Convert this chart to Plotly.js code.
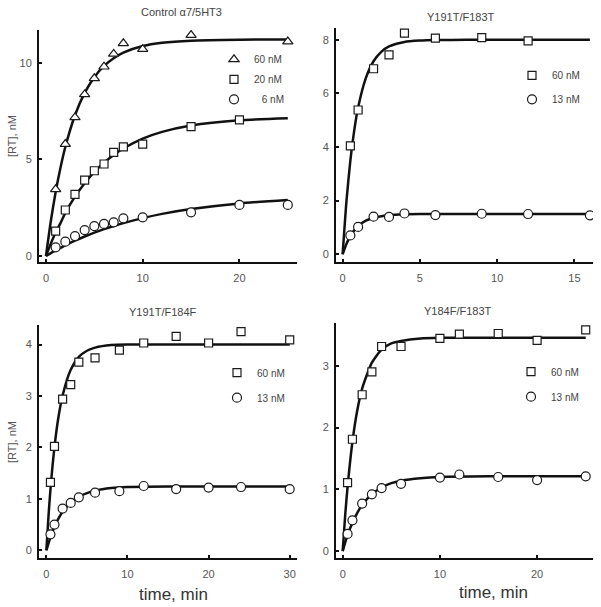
<!DOCTYPE html>
<html><head><meta charset="utf-8">
<script src="https://cdn.plot.ly/plotly-3.0.1.min.js"></script>
<style>html,body{margin:0;padding:0;background:#fff}</style>
</head><body><div id="chart" style="width:601px;height:607px"></div>
<script>
// ---------- Panel 1: Control a7/5HT3 ----------
const p1_t60 = [1,2,3,4,5,6,7,8,10,15,25];
const p1_y60 = [3.45,5.79,7.17,8.36,9.19,9.79,10.45,11.0,10.7,11.43,11.09];
const p1_t20 = [1,2,3,4,5,6,7,8,10,15,20];
const p1_y20 = [1.29,2.38,3.19,3.93,4.41,4.76,5.36,5.64,5.79,6.69,7.04];
const p1_t6  = [1,2,3,4,5,6,7,8,10,15,20,25];
const p1_y6  = [0.45,0.74,1.03,1.34,1.55,1.66,1.74,1.95,2.0,2.26,2.64,2.64];
const p1_fitT   = [0,0.5,1,1.5,2,3,4,5,6,7,8,10,12,15,20,25];
const p1_fit60  = [0,1.80,3.31,4.57,5.64,7.28,8.44,9.25,9.83,10.23,10.52,10.86,11.03,11.14,11.19,11.20];
const p1_fit20  = [0,0.64,1.22,1.70,2.23,3.07,3.76,4.35,4.83,5.23,5.56,6.07,6.42,6.75,7.02,7.13];
const p1_fit6   = [0,0.15,0.29,0.42,0.55,0.79,1.01,1.21,1.39,1.55,1.70,1.96,2.18,2.43,2.72,2.90];

// ---------- Panel 2: Y191T/F183T ----------
const p2_t60 = [0.5,1,2,3,4,6,9,12];
const p2_y60 = [4.04,5.38,6.92,7.44,8.25,8.06,8.08,7.96];
const p2_t13 = [0.5,1,2,3,4,6,9,12,16];
const p2_y13 = [0.70,1.02,1.40,1.39,1.52,1.46,1.51,1.50,1.45];
const p2_fitT  = [0,0.25,0.5,0.75,1,1.5,2,2.5,3,4,5,6,8,12,16];
const p2_fit60 = [0,2.00,3.50,4.62,5.47,6.57,7.20,7.55,7.75,7.92,7.97,7.99,8.0,8.0,8.0];
const p2_fit13 = [0,0.39,0.68,0.89,1.05,1.25,1.36,1.42,1.46,1.49,1.50,1.50,1.50,1.50,1.50];

// ---------- Panel 3: Y191T/F184F ----------
const p3_t = [0.5,1,2,3,4,6,9,12,16,20,24,30];
const p3_y60 = [1.32,2.02,2.94,3.22,3.66,3.74,3.89,4.03,4.16,4.03,4.25,4.09];
const p3_y13 = [0.31,0.50,0.81,0.92,1.03,1.12,1.15,1.25,1.19,1.22,1.23,1.19];
const p3_fitT  = [0,0.25,0.5,1,1.5,2,3,4,5,6,8,10,15,20,25,30];
const p3_fit60 = [0,0.64,1.18,2.01,2.60,3.01,3.51,3.76,3.88,3.94,3.99,4.0,4.0,4.0,4.0,4.0];
const p3_fit13 = [0,0.13,0.25,0.46,0.62,0.75,0.93,1.04,1.11,1.16,1.21,1.23,1.24,1.24,1.24,1.24];

// ---------- Panel 4: Y184F/F183T ----------
const p4_t = [0.5,1,2,3,4,6,10,12,16,20,25];
const p4_y60 = [1.11,1.81,2.53,2.90,3.31,3.31,3.44,3.51,3.52,3.41,3.58];
const p4_y13 = [0.28,0.50,0.77,0.92,1.02,1.09,1.19,1.24,1.20,1.15,1.21];
const p4_fitT  = [0,0.25,0.5,1,1.5,2,3,4,5,6,8,10,15,20,25];
const p4_fit60 = [0,0.57,1.04,1.77,2.28,2.63,3.05,3.26,3.36,3.40,3.44,3.45,3.45,3.45,3.45];
const p4_fit13 = [0,0.14,0.26,0.46,0.62,0.75,0.92,1.03,1.10,1.14,1.18,1.20,1.21,1.21,1.21];

const titles = ['Control \u03b17/5HT3','Y191T/F183T','Y191T/F184F','Y184F/F183T'];
const xTicks = [[0,10,20],[0,5,10,15],[0,10,20,30],[0,10,20]];
const yTicks = [[0,5,10],[0,2,4,6,8],[0,1,2,3,4],[0,1,2,3]];

const W = 601, H = 607;
const fx = p => p / W;
const fy = p => 1 - p / H;

const FONT = 'Liberation Sans, Arial, sans-serif';
const mk = (sym, size) => ({symbol: sym, size: size, color: '#ffffff', line: {color: '#1a1a1a', width: 1.2}});
const fitLine = {color: '#111111', width: 2.5, shape: 'spline', smoothing: 0.6};

function fit(x, y, ax, ay) {
  return {x: x, y: y, xaxis: ax, yaxis: ay, mode: 'lines', line: fitLine, showlegend: false, hoverinfo: 'skip'};
}
function pts(x, y, ax, ay, sym, size, name, leg, grp) {
  return {x: x, y: y, xaxis: ax, yaxis: ay, mode: 'markers', marker: mk(sym, size), name: name,
          legend: leg, legendgroup: grp, showlegend: true};
}

const data = [
  fit(p1_fitT, p1_fit60, 'x', 'y'), fit(p1_fitT, p1_fit20, 'x', 'y'), fit(p1_fitT, p1_fit6, 'x', 'y'),
  pts(p1_t60, p1_y60, 'x', 'y', 'triangle-up', 9, '60 nM', 'legend', 'a1'),
  pts(p1_t20, p1_y20, 'x', 'y', 'square', 8, '20 nM', 'legend', 'b1'),
  pts(p1_t6,  p1_y6,  'x', 'y', 'circle', 9, '\u2002 6 nM', 'legend', 'c1'),

  fit(p2_fitT, p2_fit60, 'x2', 'y2'), fit(p2_fitT, p2_fit13, 'x2', 'y2'),
  pts(p2_t60, p2_y60, 'x2', 'y2', 'square', 8, '60 nM', 'legend2', 'a2'),
  pts(p2_t13, p2_y13, 'x2', 'y2', 'circle', 9, '13 nM', 'legend2', 'b2'),

  fit(p3_fitT, p3_fit60, 'x3', 'y3'), fit(p3_fitT, p3_fit13, 'x3', 'y3'),
  pts(p3_t, p3_y60, 'x3', 'y3', 'square', 8, '60 nM', 'legend3', 'a3'),
  pts(p3_t, p3_y13, 'x3', 'y3', 'circle', 9, '13 nM', 'legend3', 'b3'),

  fit(p4_fitT, p4_fit60, 'x4', 'y4'), fit(p4_fitT, p4_fit13, 'x4', 'y4'),
  pts(p4_t, p4_y60, 'x4', 'y4', 'square', 8, '60 nM', 'legend4', 'a4'),
  pts(p4_t, p4_y13, 'x4', 'y4', 'circle', 9, '13 nM', 'legend4', 'b4')
];

// plot-area pixel boxes [left, right, top, bottom]
const boxes = [[39,297,30,262],[336,593,28,262],[39,297,325,558],[336,593,323,558]];
const xr = [[-0.72,25.95],[-0.43,16.2],[-0.91,30.9],[-0.69,25.75]];
const yr = [[-0.31,11.69],[-0.29,8.44],[-0.15,4.38],[-0.11,3.69]];

function axis(dom, rng, ticks, anchor, standoff) {
  return {domain: dom, range: rng, anchor: anchor, tickvals: ticks, showgrid: false, zeroline: false,
          showline: true, linecolor: '#111', linewidth: 2, ticks: 'inside', ticklen: 3, tickwidth: 2,
          tickcolor: '#111', ticklabelstandoff: standoff,
          tickfont: {family: FONT, size: 11, color: '#555'}, fixedrange: true};
}

const layout = {
  width: W, height: H, margin: {l: 0, r: 0, t: 0, b: 0},
  paper_bgcolor: '#fff', plot_bgcolor: 'rgba(0,0,0,0)',
  font: {family: FONT, color: '#444'},
  annotations: [],
  hovermode: false
};
const suf = ['', '2', '3', '4'];
for (let i = 0; i < 4; i++) {
  const b = boxes[i];
  layout['xaxis' + suf[i]] = axis([fx(b[0]), fx(b[1])], xr[i], xTicks[i], 'y' + suf[i], 5);
  layout['yaxis' + suf[i]] = axis([fy(b[3]), fy(b[2])], yr[i], yTicks[i], 'x' + suf[i], 3);
}
const legCommon = {xanchor: 'left', yanchor: 'top', bgcolor: 'rgba(0,0,0,0)', borderwidth: 0,
                   font: {family: FONT, size: 10, color: '#444'}, traceorder: 'grouped'};
layout.legend  = Object.assign({}, legCommon, {x: fx(214), y: fy(44.8), tracegroupgap: 1});
layout.legend2 = Object.assign({}, legCommon, {x: fx(512), y: fy(60.8), tracegroupgap: 5});
layout.legend3 = Object.assign({}, legCommon, {x: fx(217), y: fy(358.2), tracegroupgap: 6});
layout.legend4 = Object.assign({}, legCommon, {x: fx(511), y: fy(357.2), tracegroupgap: 6});

function ann(text, x, y, size, color, angle) {
  layout.annotations.push({text: text, x: fx(x), y: fy(y), xref: 'paper', yref: 'paper',
    xanchor: 'center', yanchor: 'middle', showarrow: false, textangle: angle || 0,
    font: {family: FONT, size: size, color: color}});
}
ann(titles[0], 181, 12, 11, '#444');
ann(titles[1], 461, 17, 11, '#444');
ann(titles[2], 163, 312, 11, '#444');
ann(titles[3], 458, 311, 11, '#444');
ann('[RT], nM', 12, 136, 11, '#555', -90);
ann('[RT], nM', 12, 442, 11, '#555', -90);
ann('time, min', 173, 594, 17, '#333');
ann('time, min', 493, 592, 17, '#333');

Plotly.newPlot('chart', data, layout, {staticPlot: true, displayModeBar: false});
</script>
</body></html>
